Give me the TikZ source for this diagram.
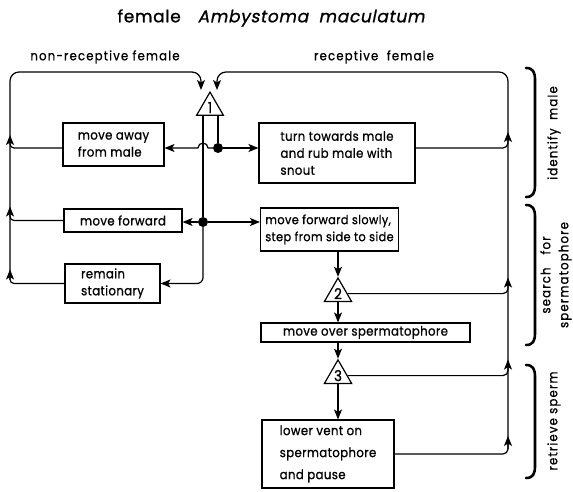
\documentclass[tikz,border=0pt]{standalone}
\usepackage{fontspec}
\setmainfont{Poppins}[FakeStretch=0.9, LetterSpace=3, FakeBold=1]
\newfontfamily\labfont{Poppins}[FakeStretch=0.9, LetterSpace=9, FakeBold=1]
\newfontfamily\titlefont{Poppins}[LetterSpace=4, FakeBold=1]
\newfontfamily\slfont{Poppins}[FakeSlant=0.2, LetterSpace=4, FakeBold=1]
\usetikzlibrary{arrows.meta,calc,shapes.geometric}
\tikzset{
  line/.style={line width=1.2pt, line join=round},
  arr/.style={line, -{Stealth[length=10pt,width=8pt,inset=2.5pt]}},
  box/.style={draw, line width=1.1pt, align=left, inner sep=0pt,
    font=\fontsize{13}{17}\selectfont},
  tri/.style={draw, line width=1.2pt, regular polygon, regular polygon sides=3,
    minimum size=31pt, inner sep=0pt, font=\fontsize{15}{15}\selectfont},
  dot/.style={circle, fill=black, inner sep=0pt, minimum size=10pt},
  lab/.style={font=\labfont\fontsize{13}{18}\selectfont},
  brace/.style={line width=2.6pt, line cap=round},
}
\begin{document}
\begin{tikzpicture}[x=1pt, y=-1pt]
\useasboundingbox (0,0) rectangle (573,492);

% title and loop labels
\node[font=\titlefont\fontsize{17}{17}\selectfont] (title) at (271,18)
  {female\quad{\slfont Ambystoma\ \ maculatum}};
\node[lab] (nonrec) at (105,57) {non-receptive female};
\node[lab] (rec) at (374,57) {receptive\ \ female};

% behaviour boxes
\node[box, minimum width=101pt, minimum height=43pt] (away) at (113.5,144.5) {move away\\from male};
\node[box, minimum width=156pt, minimum height=60pt] (turn) at (337,153) {turn towards male\\and rub male with\\snout};
\node[box, minimum width=118pt, minimum height=23pt] (fwd) at (123,220.5) {move forward};
\node[box, minimum width=95pt, minimum height=39pt] (stay) at (112.5,283.5) {remain\\stationary};
\node[box, minimum width=138pt, minimum height=43pt, font=\fontsize{12.6}{17}\selectfont] (slow) at (329.5,229.5)
  {move forward slowly,\\step from side to side};
\node[box, minimum width=209pt, minimum height=19pt] (over) at (365.5,332.5) {move over spermatophore};
\node[box, minimum width=132pt, minimum height=68pt, font=\fontsize{13}{22}\selectfont] (vent) at (328,454)
  {lower vent on\\spermatophore\\and pause};

% decision triangles
\node[tri] (t1) at (210,107.6) {1};
\node[tri] (t2) at (338,293.6) {2};
\node[tri] (t3) at (338,375.6) {3};

% branching points
\node[dot] (d1) at (218,148) {};
\node[dot] (d2) at (203,222) {};

% rail corners and loop entries
\coordinate (ltop) at (10,72);
\coordinate (rtop) at (508,72);
\coordinate (in1) at (201,90);
\coordinate (in2) at (217,90);

% legs below triangle 1
\draw[line] (t1.south -| d1) -- (d1);
\draw[line] (t1.south -| d2) -- (d2);
\draw[arr, rounded corners=6pt] (d2) |- (stay.east);

% first branch point
\draw[arr] (d1) -- (turn.west |- d1);
\draw[arr] (d1) -- ($(d2 |- d1)+(5,0)$) arc[start angle=0, end angle=180, radius=5pt] -- (away.east |- d1);

% second branch point
\draw[arr] (d2) -- (fwd.east |- d2);
\draw[arr] (d2) -- (slow.west |- d2);

% main sequence
\draw[arr] (t2.north |- slow.south) -- (t2.north);
\draw[arr] (t2.south) -- (t2.south |- over.north);
\draw[arr] (t3.north |- over.south) -- (t3.north);
\draw[arr] (t3.south) -- (t3.south |- vent.north);

% left rail (non-receptive loop)
\draw[arr, rounded corners=9pt] ($(ltop |- stay.west)+(0,-4)$) -- (ltop) -| (in1);
\draw[arr, rounded corners=4pt] (away.west |- d1) -| ($(ltop |- d1)+(0,-13)$);
\draw[arr, rounded corners=4pt] (fwd.west) -| ($(ltop |- fwd.west)+(0,-14)$);
\draw[arr, rounded corners=4pt] (stay.west) -| ($(ltop |- stay.west)+(0,-14)$);

% right rail (receptive loop)
\draw[arr, rounded corners=9pt] ($(rtop |- vent.east)+(0,-5)$) -- (rtop) -| (in2);
\draw[arr, rounded corners=5pt] (turn.east |- d1) -| ($(rtop |- d1)+(0,-16)$);
\draw[arr, rounded corners=5pt] (t2.east) -| ($(rtop |- t2.east)+(0,-16)$);
\draw[arr, rounded corners=5pt] (t3.east) -| ($(rtop |- t3.east)+(0,-16)$);
\draw[arr, rounded corners=5pt] (vent.east) -| ($(rtop |- vent.east)+(0,-18)$);

% phase brackets
\draw[brace] (526,68) .. controls (533,68) and (535,72) .. (535,80) -- (535,185) .. controls (535,193) and (533,197) .. (526,197);
\draw[brace] (526,205) .. controls (533,205) and (535,209) .. (535,217) -- (535,333) .. controls (535,341) and (533,345) .. (526,345);
\draw[brace] (526,365) .. controls (533,365) and (535,369) .. (535,377) -- (535,466) .. controls (535,474) and (533,478) .. (526,478);

% phase labels
\node[lab, rotate=90] (ph1) at (554,133) {identify\ \ male};
\node[lab, rotate=90, align=center] (ph2) at (556,275) {search\quad for\\spermatophore};
\node[lab, rotate=90] (ph3) at (554,421) {retrieve sperm};
\end{tikzpicture}
\end{document}
